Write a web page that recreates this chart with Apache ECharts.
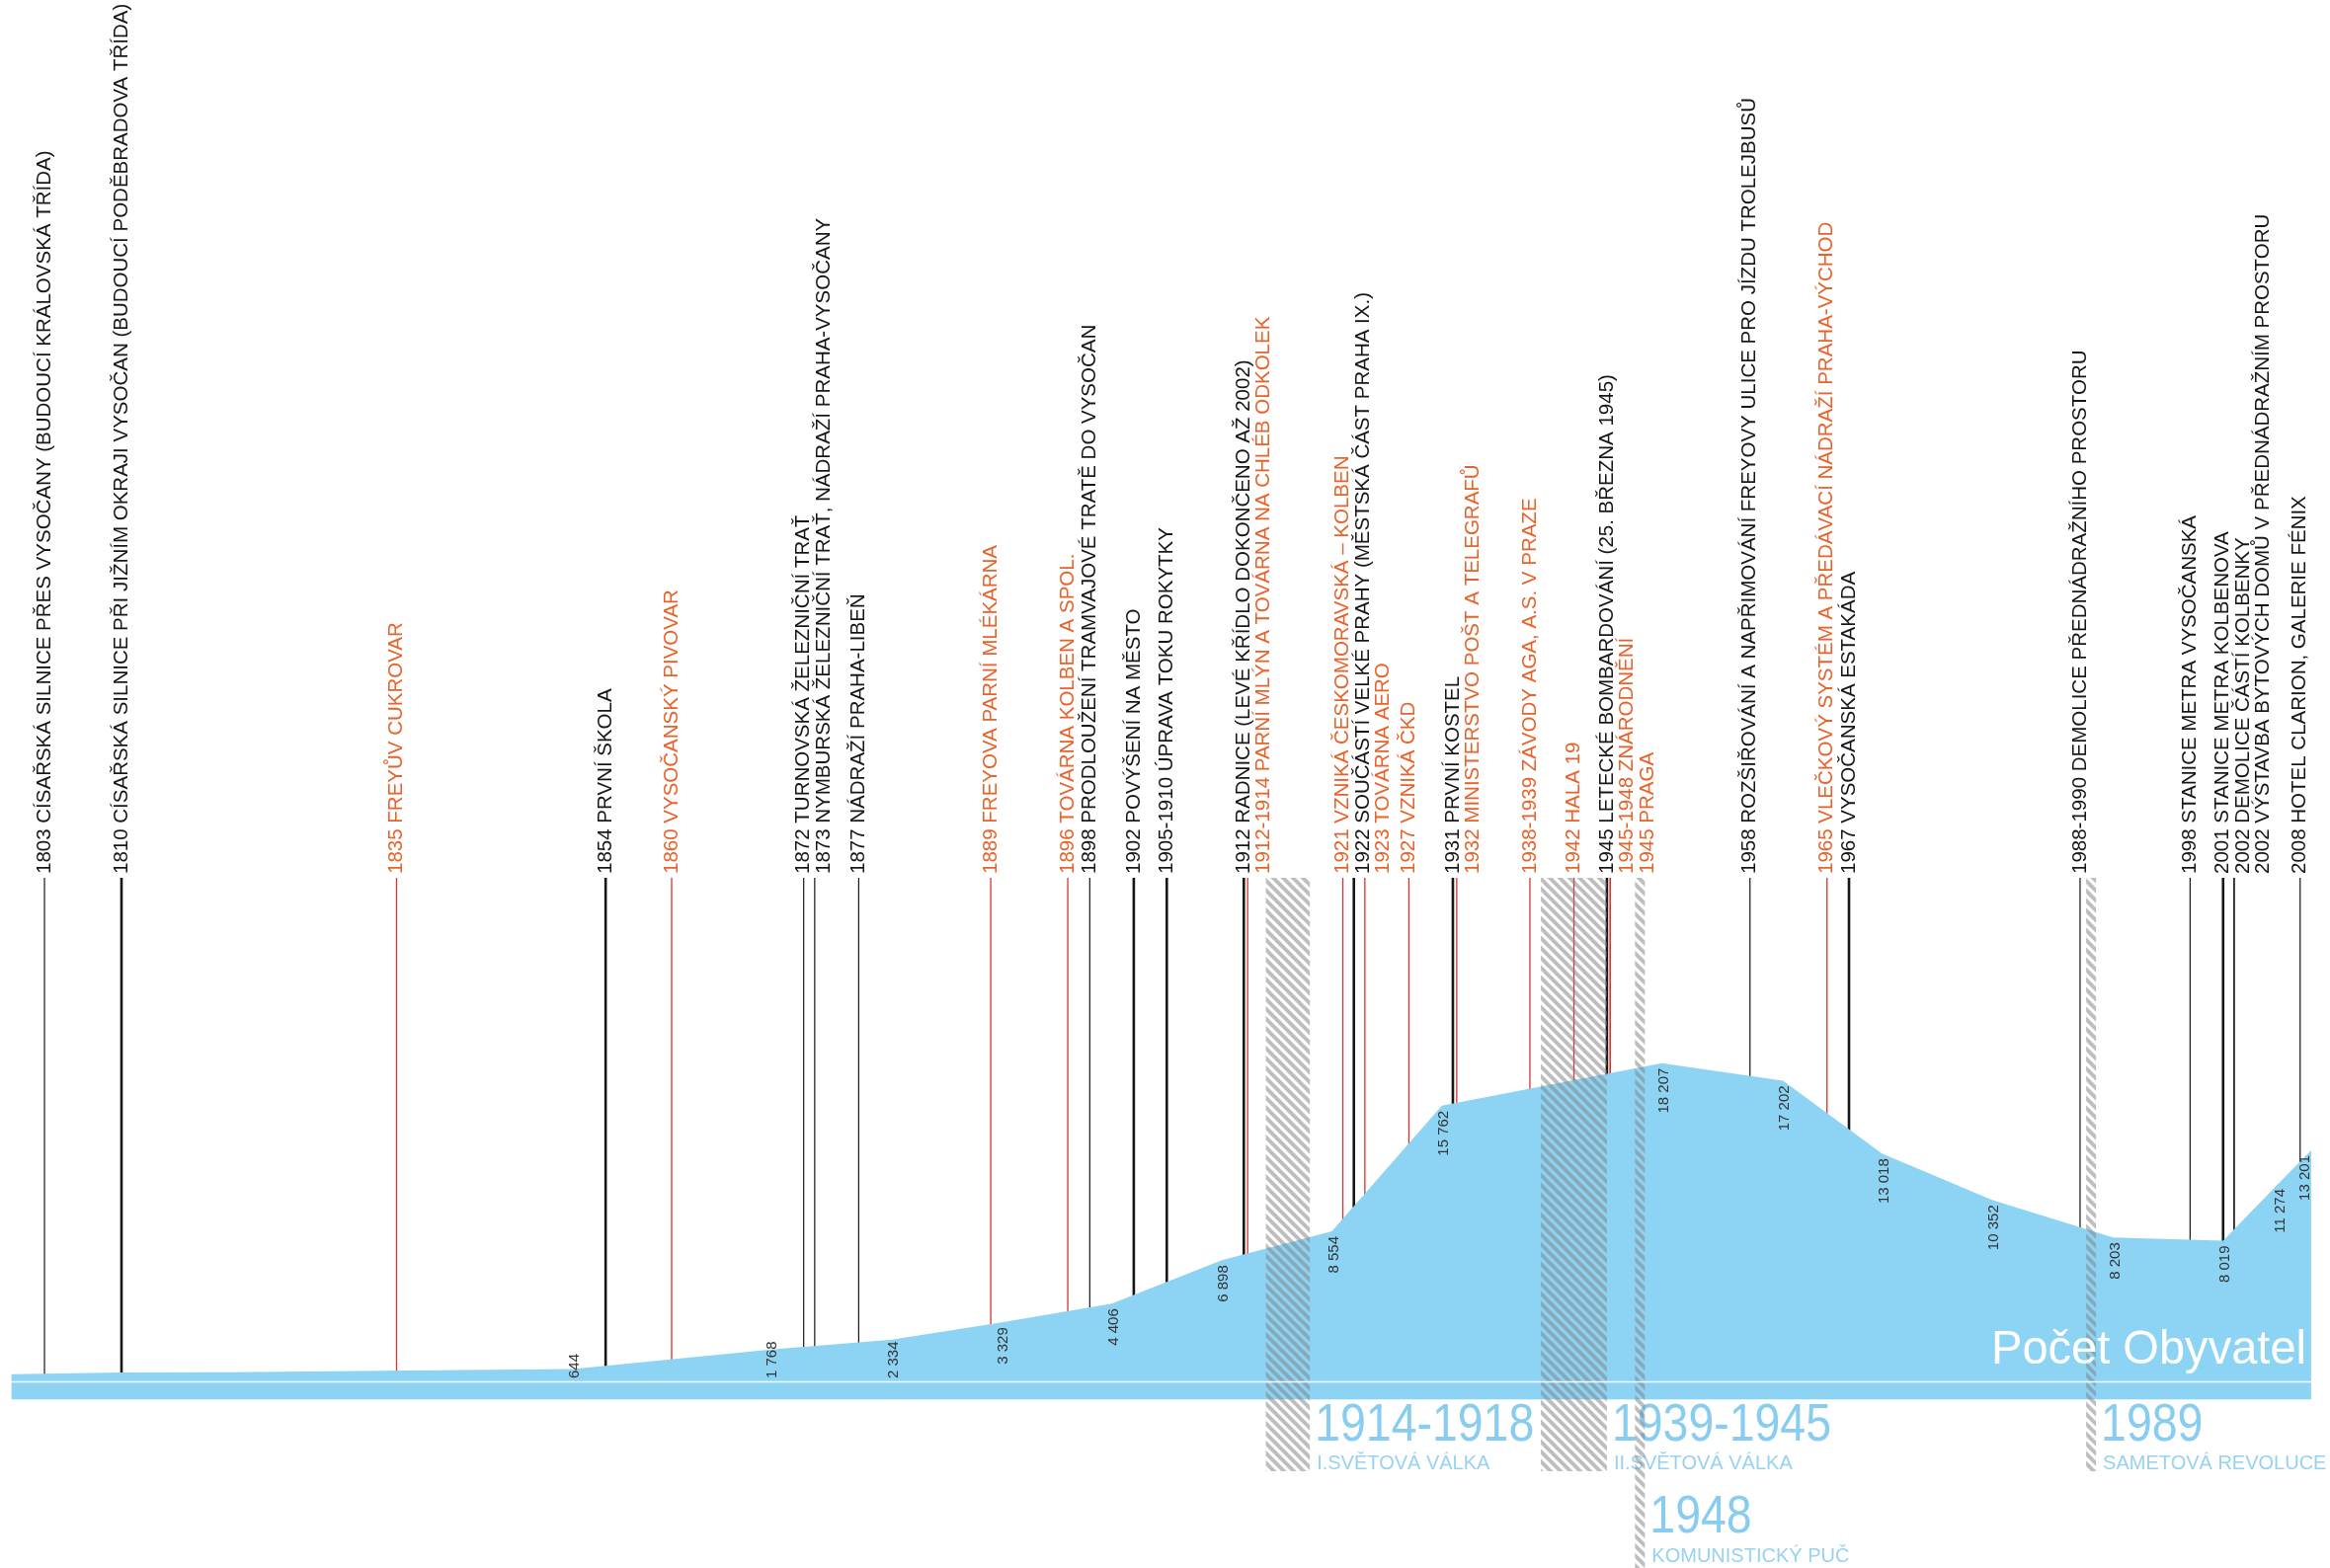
<!DOCTYPE html>
<html><head><meta charset="utf-8">
<script src="https://cdn.jsdelivr.net/npm/echarts@6/dist/echarts.min.js"></script>
<style>html,body{margin:0;padding:0;background:#fff}#c{width:2359px;height:1588px}</style>
</head><body><div id="c"></div>
<script>
// ---------------- DATA ----------------
const seriesName = 'Počet Obyvatel';
// early (unlabelled) estimates of population, read off the thin left part of the area
const earlyYears  = [1800, 1810, 1820, 1836];
const earlyValues = [350, 450, 460, 570];
// labelled population counts
const censusYears  = [1851, 1869, 1880, 1890, 1900, 1910, 1920, 1930, 1950, 1961, 1970, 1980, 1991, 2001, 2006, 2009];
const censusValues = [644, 1768, 2334, 3329, 4406, 6898, 8554, 15762, 18207, 17202, 13018, 10352, 8203, 8019, 11274, 13201];

// timeline events (position on the time axis, label, type)
const eventYears = [1803, 1810, 1835, 1854, 1860, 1872, 1873, 1877, 1889, 1896, 1898, 1902, 1905,
  1912, 1912.35, 1921, 1922, 1923, 1927, 1931, 1931.35, 1938, 1942, 1945, 1945.3, 1945.3,
  1958, 1965, 1967, 1988, 1998, 2001, 2002, 2002, 2008];
const eventLabels = [
  '1803 CÍSAŘSKÁ SILNICE PŘES VYSOČANY (BUDOUCÍ KRÁLOVSKÁ TŘÍDA)',
  '1810 CÍSAŘSKÁ SILNICE PŘI JIŽNÍM OKRAJI VYSOČAN (BUDOUCÍ PODĚBRADOVA TŘÍDA)',
  '1835 FREYŮV CUKROVAR',
  '1854 PRVNÍ ŠKOLA',
  '1860 VYSOČANSKÝ PIVOVAR',
  '1872 TURNOVSKÁ ŽELEZNIČNÍ TRAŤ',
  '1873 NYMBURSKÁ ŽELEZNIČNÍ TRAŤ, NÁDRAŽÍ PRAHA-VYSOČANY',
  '1877 NÁDRAŽÍ PRAHA-LIBEŇ',
  '1889 FREYOVA PARNÍ MLÉKÁRNA',
  '1896 TOVÁRNA KOLBEN A SPOL.',
  '1898 PRODLOUŽENÍ TRAMVAJOVÉ TRATĚ DO VYSOČAN',
  '1902 POVÝŠENÍ NA MĚSTO',
  '1905-1910 ÚPRAVA TOKU ROKYTKY',
  '1912 RADNICE (LEVÉ KŘÍDLO DOKONČENO AŽ 2002)',
  '1912-1914 PARNÍ MLÝN A TOVÁRNA NA CHLÉB ODKOLEK',
  '1921 VZNIKÁ ČESKOMORAVSKÁ – KOLBEN',
  '1922 SOUČÁSTÍ VELKÉ PRAHY (MĚSTSKÁ ČÁST PRAHA IX.)',
  '1923 TOVÁRNA AERO',
  '1927 VZNIKÁ ČKD',
  '1931 PRVNÍ KOSTEL',
  '1932 MINISTERSTVO POŠT A TELEGRAFŮ',
  '1938-1939 ZÁVODY AGA, A.S. V PRAZE',
  '1942 HALA 19',
  '1945 LETECKÉ BOMBARDOVÁNÍ (25. BŘEZNA 1945)',
  '1945-1948 ZNÁRODNĚNÍ',
  '1945 PRAGA',
  '1958 ROZŠIŘOVÁNÍ A NAPŘIMOVÁNÍ FREYOVY ULICE PRO JÍZDU TROLEJBUSŮ',
  '1965 VLEČKOVÝ SYSTÉM A PŘEDÁVACÍ NÁDRAŽÍ PRAHA-VÝCHOD',
  '1967 VYSOČANSKÁ ESTAKÁDA',
  '1988-1990 DEMOLICE PŘEDNÁDRAŽNÍHO PROSTORU',
  '1998 STANICE METRA VYSOČANSKÁ',
  '2001 STANICE METRA KOLBENOVA',
  '2002 DEMOLICE ČÁSTÍ KOLBENKY',
  '2002 VÝSTAVBA BYTOVÝCH DOMŮ V PŘEDNÁDRAŽNÍM PROSTORU',
  '2008 HOTEL CLARION, GALERIE FÉNIX'
];
const eventTypes = ['civic','civic','industry','civic','industry','civic','civic','civic','industry','industry','civic','civic','civic',
  'civic','industry','industry','civic','industry','industry','civic','industry','industry','industry','civic','industry','industry',
  'civic','industry','civic','civic','civic','civic','civic','civic','civic'];

// historical periods
const periodStarts    = [1914, 1939, 1948, 1989];
const periodEnds      = [1918, 1945, 1948, 1989];
const periodTitles    = ['1914-1918', '1939-1945', '1948', '1989'];
const periodSubtitles = ['I.SVĚTOVÁ VÁLKA', 'II.SVĚTOVÁ VÁLKA', 'KOMUNISTICKÝ PUČ', 'SAMETOVÁ REVOLUCE'];

// ---------------- STYLE ----------------
const FONT = '"Liberation Sans", Arial, Helvetica, sans-serif';
const AREA = '#8dd4f4';
const ORANGE = '#e8622a';
const RED = '#d8342c';
const DARK = '#161616';
const BIG = '#88cdf0';
const SUB = '#98d2ef';
const LINE_TOP = 889, LABEL_BOTTOM = 885, LABEL_GAP = 20.5, LABEL_FONT = 20.5;
const eventThick = [0,1,0,1,0,0,0,0,0,0,0,1,1, 1,0,0,1,0,0,1,1,0,0,1,0,0, 0,0,1,0,0,1,0,0,0];
const periodRow = [0,0,1,0];
const ROW = [{bottom:1490, title:1444, sub:1482},{bottom:1600, title:1537, sub:1576}];

function makeHatch(){
  const P = 10;
  const c = document.createElement('canvas'); c.width = P; c.height = P;
  const g = c.getContext('2d');
  g.strokeStyle = 'rgba(130,130,130,0.52)'; g.lineWidth = 4;
  for (let k = -P; k <= P; k += P){ g.beginPath(); g.moveTo(k - 2, -2); g.lineTo(k + P + 2, P + 2); g.stroke(); }
  return c;
}
const hatch = makeHatch();
const mctx = document.createElement('canvas').getContext('2d');
function textWidth(t, font){ mctx.font = font; return mctx.measureText(t).width; }
const fmt = v => String(v).replace(/\B(?=(\d{3})+(?!\d))/g, ' ');

const areaData = earlyYears.map((y,i)=>[y, earlyValues[i]]).concat(censusYears.map((y,i)=>[y, censusValues[i]]));

function labelXs(api){
  const out = []; let prev = -Infinity;
  for (let i = 0; i < eventYears.length; i++){
    const x = Math.max(api.coord([eventYears[i], 0])[0], prev + LABEL_GAP);
    out.push(x); prev = x;
  }
  return out;
}

const chart = echarts.init(document.getElementById('c'), null, {renderer:'canvas'});
chart.setOption({
  animation: false,
  backgroundColor: '#ffffff',
  grid: {left: 11.6, right: 19.1, top: 1045, bottom: 170.6},
  xAxis: {type:'value', min:1800, max:2009, show:false},
  yAxis: {type:'value', min:-1100, max:20000, show:false},
  graphic: [{
    type:'text', x: 2335, y: 1367, scaleX: 0.96, z: 100,
    style: {text: seriesName, fill:'#ffffff', font: '49px ' + FONT, align:'right', verticalAlign:'middle'}
  }],
  series: [
    { // event lines + labels
      type:'custom', z: 1, silent: true, clip: false,
      data: eventYears.map((y,i)=>[y, i]),
      encode: {x: 0},
      renderItem: function(params, api){
        const i = params.dataIndex;
        const xs = labelXs(api);
        const p = api.coord([eventYears[i], 0]);
        const ind = eventTypes[i] === 'industry';
        return {type:'group', children:[
          {type:'line', shape:{x1:p[0], y1:LINE_TOP, x2:p[0], y2:p[1]},
           style:{stroke: ind ? RED : DARK, lineWidth: ind ? 1.3 : (eventThick[i] ? 2.6 : 1.2)}},
          {type:'text', x: xs[i], y: LABEL_BOTTOM, rotation: Math.PI/2,
           style:{text: eventLabels[i], fill: ind ? ORANGE : DARK, font: LABEL_FONT + 'px ' + FONT, align:'left', verticalAlign:'middle'}}
        ]};
      }
    },
    { // population area
      name: seriesName, type:'line', z: 2, data: areaData, symbol:'none', silent: true,
      lineStyle:{width:0, opacity:0}, itemStyle:{color: AREA},
      areaStyle:{color: AREA, opacity: 1, origin:'start'},
      markLine:{silent:true, symbol:'none', label:{show:false}, animation:false,
        lineStyle:{color:'#ffffff', width:1.3, type:'solid'}, data:[{yAxis:-60}]}
    },
    { // historical periods (hatch + titles)
      type:'custom', z: 3, silent: true, clip: false,
      data: periodStarts.map((s,i)=>[s, periodEnds[i], i]),
      encode: {x: [0,1]},
      renderItem: function(params, api){
        const i = params.dataIndex;
        let x0 = api.coord([periodStarts[i], 0])[0], x1 = api.coord([periodEnds[i], 0])[0];
        if (x1 - x0 < 10){ const c = (x0 + x1)/2; x0 = c - 5; x1 = c + 5; }
        const r = ROW[periodRow[i]];
        return {type:'group', children:[
          {type:'rect', shape:{x:x0, y:LINE_TOP, width:x1-x0, height:r.bottom-LINE_TOP},
           style:{fill:{image: hatch, repeat:'repeat'}}},
          {type:'text', x: x1 + 5, y: r.title, scaleX: 0.86,
           style:{text: periodTitles[i], fill: BIG, font: '54px ' + FONT, align:'left', verticalAlign:'middle'}},
          {type:'text', x: x1 + 7, y: r.sub,
           style:{text: periodSubtitles[i], fill: SUB, font: '20px ' + FONT, align:'left', verticalAlign:'middle'}}
        ]};
      }
    },
    { // population value labels
      type:'custom', z: 4, silent: true, clip: false,
      data: censusYears.map((y,i)=>[y, censusValues[i]]),
      encode: {x:0, y:1},
      renderItem: function(params, api){
        const i = params.dataIndex;
        const p = api.coord([censusYears[i], censusValues[i]]);
        const base = api.coord([censusYears[i], 0])[1];
        const t = fmt(censusValues[i]);
        const f = '15px ' + FONT;
        const w = textWidth(t, f);
        const top = Math.min(p[1] + 5, base - 2 - w);
        const dx = i === censusYears.length - 1 ? -6 : 2;
        return {type:'text', x: p[0] + dx, y: top, rotation: Math.PI/2,
          style:{text: t, fill:'#333333', font: f, align:'right', verticalAlign:'middle'}};
      }
    }
  ]
});
</script></body></html>
